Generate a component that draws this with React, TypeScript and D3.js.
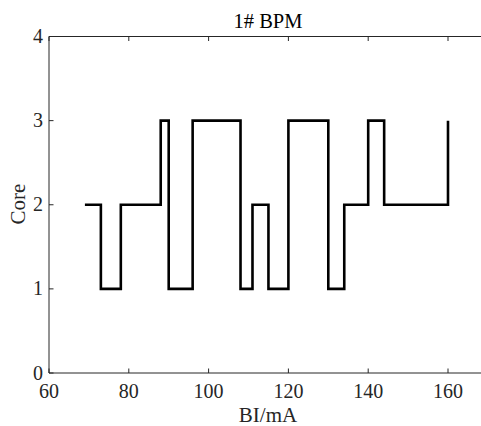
import React, { useEffect } from "react";
import * as d3 from "d3";

const stepX = [69, 73, 78, 88, 90, 96, 108, 111, 115, 120, 130, 134, 140, 144, 160];
const stepY = [2, 1, 2, 3, 1, 3, 1, 2, 1, 3, 1, 2, 3, 2, 3];
const xTicks = [60, 80, 100, 120, 140, 160];
const yTicks = [0, 1, 2, 3, 4];
const title = "1# BPM";
const xLabel = "BI/mA";
const yLabel = "Core";

const W = 481;
const H = 426;
const left = 49;
const top = 36.5;
const bottom = 373;

export default function App() {
  useEffect(() => {
    document.body.style.margin = "0";
  }, []);
  const x = d3.scaleLinear().domain([60, 170]).range([left, left + 110 * 3.99]);
  const y = d3.scaleLinear().domain([0, 4]).range([bottom, top]);
  const pts: [number, number][] = stepX.map((v, i) => [v, stepY[i]]);
  const line = d3
    .line<[number, number]>()
    .x((d) => x(d[0]))
    .y((d) => y(d[1]))
    .curve(d3.curveStepAfter);
  const pathD = line(pts) || "";
  const font = "'Liberation Serif', 'Times New Roman', serif";
  const axisColor = "#262626";
  return (
    <svg width={W} height={H} style={{ position: "absolute", left: 0, top: 0, background: "#fff" }}>
      <rect x={0} y={0} width={W} height={H} fill="#fff" />
      <line x1={left} x2={W} y1={bottom} y2={bottom} stroke={axisColor} strokeWidth={1} />
      <line x1={left} x2={W} y1={top} y2={top} stroke={axisColor} strokeWidth={1} />
      <line x1={left} x2={left} y1={top} y2={bottom} stroke={axisColor} strokeWidth={1} />
      {xTicks.map((t) => (
        <g key={"x" + t}>
          <line x1={x(t)} x2={x(t)} y1={bottom} y2={bottom - 4.5} stroke={axisColor} strokeWidth={1} />
          <line x1={x(t)} x2={x(t)} y1={top} y2={top + 4.5} stroke={axisColor} strokeWidth={1} />
          <text x={x(t)} y={398} textAnchor="middle" fontFamily={font} fontSize={20} fill={axisColor}>
            {t}
          </text>
        </g>
      ))}
      {yTicks.map((t) => (
        <g key={"y" + t}>
          <line x1={left} x2={left + 4.5} y1={y(t)} y2={y(t)} stroke={axisColor} strokeWidth={1} />
          <text x={43} y={y(t) + 6.5} textAnchor="end" fontFamily={font} fontSize={20} fill={axisColor}>
            {t}
          </text>
        </g>
      ))}
      <path d={pathD} fill="none" stroke="#000" strokeWidth={2.6} strokeLinejoin="miter" />
      <text x={268} y={27.5} textAnchor="middle" fontFamily={font} fontSize={20.5} fill="#000">
        {title}
      </text>
      <text x={268} y={422} textAnchor="middle" fontFamily={font} fontSize={21} fill={axisColor}>
        {xLabel}
      </text>
      <text
        transform={`translate(25, 204) rotate(-90)`}
        textAnchor="middle"
        fontFamily={font}
        fontSize={21}
        fill={axisColor}
      >
        {yLabel}
      </text>
    </svg>
  );
}
